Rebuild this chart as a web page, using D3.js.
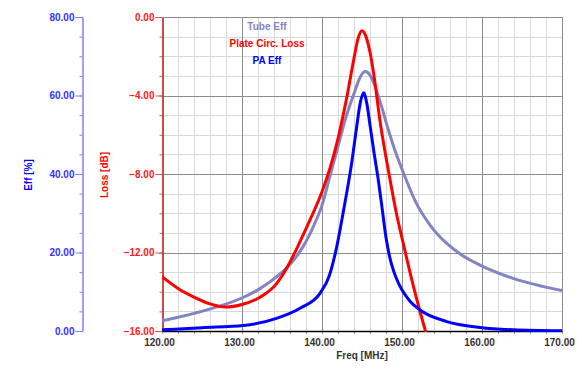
<!DOCTYPE html>
<html><head><meta charset="utf-8">
<script src="https://cdn.jsdelivr.net/npm/d3@7"></script>
<style>
body{margin:0;background:#fff}
svg{display:block;font-family:"Liberation Sans",Arial,sans-serif;font-weight:bold;font-size:10px}
</style>
</head><body>
<svg id="chart" width="582" height="371"></svg>
<script>
// ---------- data ----------
const freqTicks = [120, 130, 140, 150, 160, 170];
const effTicks = [0, 20, 40, 60, 80];
const lossTicks = [-16, -12, -8, -4, 0];

const lossFreq = [120, 122, 124, 126, 128, 130, 132.25, 134.3, 135.8, 137.25, 138.5, 140, 141, 142, 143, 144, 144.5, 145.0, 145.5, 146.0, 146.5, 147.25, 148.4, 149.3, 150.25, 151.2, 152.2, 153.5];
const lossVals = [-13.23, -13.83, -14.27, -14.62, -14.78, -14.65, -14.28, -13.6, -12.64, -11.45, -10.34, -8.9, -7.7, -6.2, -4.3, -2.1, -1.1, -0.7, -1.0, -1.8, -3.0, -5.3, -8.05, -10.0, -11.7, -13.35, -14.93, -16.8];

const tubeFreq = [120, 122, 124, 127, 130.2, 132.25, 134.3, 135.8, 137, 138, 139, 140, 141, 142, 143, 144, 144.8, 145.4, 146, 146.6, 147.4, 148.3, 149.1, 150.2, 151.8, 153.5, 155.6, 157.5, 159.75, 163.9, 170];
const tubeEff  = [2.6, 3.5, 4.5, 6.2, 8.6, 10.8, 13.8, 16.5, 19.5, 22.8, 27.0, 32.0, 39.5, 47.0, 54.5, 60.5, 64.8, 66.1, 65.2, 62.5, 57.5, 51.2, 46.1, 40.2, 32.5, 27.0, 22.3, 19.3, 16.8, 13.4, 10.3];

const paFreq = [120, 125, 130.2, 134.3, 137.25, 139.75, 140.9, 141.75, 142.7, 143.7, 144.3, 144.8, 145.2, 145.6, 146.0, 146.5, 147.0, 147.5, 148.0, 148.5, 149.0, 149.6, 150.2, 151.0, 152.25, 155.6, 159.75, 163.9, 170];
const paEff  = [0.3, 0.85, 1.4, 3.2, 5.8, 9.6, 14.0, 20.6, 30.8, 42.7, 51.5, 58.3, 60.7, 58.0, 52.5, 45.5, 39.0, 31.5, 23.8, 18.5, 15.0, 12.0, 9.8, 7.6, 5.35, 2.4, 0.9, 0.3, 0.05];

const legendItems = ["Tube Eff", "Plate Circ. Loss", "PA Eff"];

// ---------- layout ----------
const svg = d3.select("#chart");
const X0 = 162, X1 = 562, Y0 = 17, Y1 = 331;
const x = d3.scaleLinear().domain([120, 170]).range([X0, X1]);
const yEff = d3.scaleLinear().domain([0, 80]).range([Y1, Y0]);
const yLoss = d3.scaleLinear().domain([-16, 0]).range([Y1, Y0]);

const colTube = "#8484c4", colLoss = "#ff0000", colPA = "#0000ff";

// grid
const grid = svg.append("g");
const minorX = d3.range(120, 170.01, 2).filter(v => v % 10 !== 0);
const minorY = d3.range(-16, 0.01, 1).filter(v => v % 4 !== 0);
grid.selectAll(".mx").data(minorX).enter().append("line")
  .attr("x1", d => x(d) + 0.5).attr("x2", d => x(d) + 0.5).attr("y1", Y0).attr("y2", Y1)
  .attr("stroke", "#d9d9d9");
grid.selectAll(".my").data(minorY).enter().append("line")
  .attr("x1", X0).attr("x2", X1).attr("y1", d => Math.round(yLoss(d)) + 0.5).attr("y2", d => Math.round(yLoss(d)) + 0.5)
  .attr("stroke", "#d9d9d9");
grid.selectAll(".Mx").data(freqTicks.slice(1)).enter().append("line")
  .attr("x1", d => x(d) + 0.5).attr("x2", d => x(d) + 0.5).attr("y1", Y0).attr("y2", Y1)
  .attr("stroke", "#8c8c8c");
grid.selectAll(".My").data(lossTicks.slice(1)).enter().append("line")
  .attr("x1", X0).attr("x2", X1).attr("y1", d => Math.round(yLoss(d)) + 0.5).attr("y2", d => Math.round(yLoss(d)) + 0.5)
  .attr("stroke", "#8c8c8c");

// Eff axis
const effAxisG = svg.append("g").attr("transform", "translate(82.5,0)");
effAxisG.call(d3.axisLeft(yEff).tickValues(d3.range(0, 80.01, 5)).tickSize(3).tickFormat(""));
effAxisG.call(g => g.selectAll("text").remove());
const effMajor = svg.append("g").attr("transform", "translate(82.5,0)")
  .call(d3.axisLeft(yEff).tickValues(effTicks).tickSize(7).tickPadding(1).tickFormat(d3.format(".2f")));
[effAxisG, effMajor].forEach(g => {
  g.selectAll("path").attr("stroke", "#7f7fff");
  g.selectAll("line").attr("stroke", "#7f7fff");
  g.selectAll("text").attr("fill", "#3333ff").style("font", "bold 10px 'Liberation Sans', Arial");
});

// Loss axis
const lossMinor = svg.append("g").attr("transform", "translate(162.5,0)")
  .call(d3.axisLeft(yLoss).tickValues(d3.range(-16, 0.01, 1)).tickSize(3).tickFormat(""));
const lossMajor = svg.append("g").attr("transform", "translate(162.5,0)")
  .call(d3.axisLeft(yLoss).tickValues(lossTicks).tickSize(7).tickPadding(1).tickFormat(d3.format(".2f")));
[lossMinor, lossMajor].forEach(g => {
  g.selectAll("path").attr("stroke", "#c01010");
  g.selectAll("line").attr("stroke", "#e05050");
  g.selectAll("text").attr("fill", "#ff2020").style("font", "bold 10px 'Liberation Sans', Arial");
});

// top border
svg.append("line").attr("x1", X0).attr("x2", X1).attr("y1", Y0 + 0.5).attr("y2", Y0 + 0.5).attr("stroke", "#8c8c8c");

// X axis
const xMinor = svg.append("g").attr("transform", `translate(0,${Y1})`)
  .call(d3.axisBottom(x).tickValues(d3.range(120, 170.01, 2)).tickSize(3).tickFormat(""));
xMinor.selectAll("line").attr("stroke", "#999");
xMinor.select("path").remove();
const xAxisG = svg.append("g").attr("transform", `translate(0,${Y1})`)
  .call(d3.axisBottom(x).tickValues(freqTicks).tickSize(0).tickPadding(8).tickFormat(d3.format(".2f")));
xAxisG.select("path").attr("stroke", "#000").attr("stroke-width", 1.5);
xAxisG.selectAll("text").attr("fill", "#333").attr("dx", -3).style("font", "bold 10px 'Liberation Sans', Arial");

// axis titles
svg.append("text").attr("x", 362).attr("y", 359).attr("text-anchor", "middle")
  .attr("fill", "#333").text("Freq [MHz]");
svg.append("text").attr("transform", "translate(32,175) rotate(-90)").attr("text-anchor", "middle")
  .attr("fill", "#0000ff").text("Eff [%]");
svg.append("text").attr("transform", "translate(108,175) rotate(-90)").attr("text-anchor", "middle")
  .attr("fill", "#ff0000").text("Loss [dB]");

// curves
svg.append("clipPath").attr("id", "clip").append("rect")
  .attr("x", X0).attr("y", Y0 - 3).attr("width", X1 - X0 + 2).attr("height", Y1 - Y0 + 4);
const plot = svg.append("g").attr("clip-path", "url(#clip)");
const curve = d3.curveMonotoneX;
const lineEff = d3.line().x(d => x(d[0])).y(d => yEff(d[1])).curve(curve);
const lineLoss = d3.line().x(d => x(d[0])).y(d => yLoss(d[1])).curve(curve);

plot.append("path").datum(d3.zip(tubeFreq, tubeEff)).attr("d", lineEff)
  .attr("fill", "none").attr("stroke", colTube).attr("stroke-width", 3);
plot.append("path").datum(d3.zip(lossFreq, lossVals)).attr("d", lineLoss)
  .attr("fill", "none").attr("stroke", colLoss).attr("stroke-width", 3);
plot.append("path").datum(d3.zip(paFreq, paEff)).attr("d", lineEff)
  .attr("fill", "none").attr("stroke", colPA).attr("stroke-width", 3);

// legend
const legCols = [colTube, colLoss, colPA];
svg.append("g").selectAll("text").data(legendItems).enter().append("text")
  .attr("x", 267).attr("y", (d, i) => 30 + i * 17).attr("text-anchor", "middle")
  .attr("fill", (d, i) => legCols[i]).text(d => d);
</script>
</body></html>
